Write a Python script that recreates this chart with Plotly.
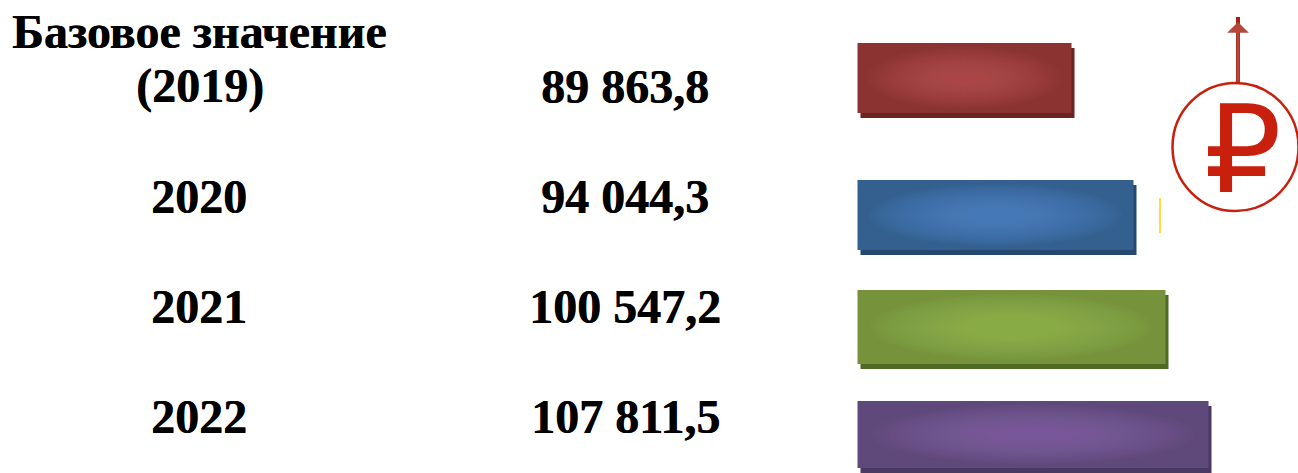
import plotly.graph_objects as go

# --- data ---
years = ["Базовое значение (2019)", "2020", "2021", "2022"]
amounts = ["89 863,8", "94 044,3", "100 547,2", "107 811,5"]
bar_lengths = [214, 276, 308, 351]   # drawn lengths as pictured (not proportional to the amounts)

# --- layout (picture pixels) ---
W, H = 1298, 473
BAR_X0 = 857.5
bar_top = [43, 180, 290, 401]
bar_bottom = [113, 250, 364, 468]
SHADOW_DX, SHADOW_DY = 3, 5
edge = ["#8a3331", "#34608f", "#76933c", "#5f497a"]
centre = ["#c0524f", "#5285c4", "#a0c05c", "#8668aa"]
shadow = ["#6a2421", "#26486f", "#4f6a22", "#4a3a63"]
FONT = "Liberation Serif"
FS = 48
BLACK = "#000000"
RED = "#c8200c"
DARK_RED = "#a8210f"
GLOW_LAYERS = 24

fig = go.Figure()
names = ["2019", "2020", "2021", "2022"]
shapes = []
for i, length in enumerate(bar_lengths):
    top, bottom = bar_top[i], bar_bottom[i]
    h = bottom - top
    mid = (top + bottom) / 2
    fig.add_bar(x=[length], base=[BAR_X0 + SHADOW_DX], y=[mid + SHADOW_DY], width=[h],
                orientation="h", marker=dict(color=shadow[i], line_width=0),
                hoverinfo="skip", showlegend=False)
    fig.add_bar(x=[length], base=[BAR_X0], y=[mid], width=[h],
                orientation="h", marker=dict(color=edge[i], line_width=0),
                name=names[i], showlegend=False)
    # soft centre glow built from stacked translucent ellipses
    for k in range(GLOW_LAYERS):
        t = k / GLOW_LAYERS
        rx = length / 2 * 0.92 * (1 - 0.85 * t)
        ry = h / 2 * 0.9 * (1 - 0.85 * t)
        cx = BAR_X0 + length / 2
        shapes.append(dict(type="circle", xref="x", yref="y", layer="above",
                           x0=cx - rx, x1=cx + rx, y0=mid - ry, y1=mid + ry,
                           fillcolor=centre[i], opacity=0.06, line_width=0))

annotations = []


def label(x, y, text):
    annotations.append(dict(x=x, y=y, xref="x", yref="y", text=f"<b>{text}</b>", showarrow=False,
                            xanchor="center", yanchor="middle",
                            font=dict(family=FONT, size=FS, color=BLACK,
                                      shadow="0.5px 0 0 #000")))


label(199, 31, "Базовое значение")
label(200, 86, "(2019)")
for yr, y in zip(years[1:], [196, 306, 416]):
    label(199, y, yr)
for amt, y in zip(amounts, [86, 196, 306, 416]):
    label(625, y, amt)

# rouble sign
annotations.append(dict(x=1243, y=150, xref="x", yref="y", text="₽", showarrow=False,
                        xanchor="center", yanchor="middle",
                        font=dict(family="DejaVu Sans", size=122, color=RED)))
# arrow head
annotations.append(dict(x=1238, y=22, ax=1238, ay=83, xref="x", yref="y", axref="x", ayref="y",
                        text="", showarrow=True, arrowhead=1, arrowsize=1.2, arrowwidth=3,
                        arrowcolor="#b5473a"))

shapes += [
    dict(type="line", xref="x", yref="y", x0=1238, x1=1238, y0=83, y1=17,
         line=dict(color=DARK_RED, width=4), layer="above"),
    dict(type="circle", xref="x", yref="y", x0=1172.5, x1=1298.5, y0=83, y1=211,
         line=dict(color=RED, width=2.5), fillcolor="rgba(0,0,0,0)"),
    dict(type="line", xref="x", yref="y", x0=1160, x1=1160, y0=198, y1=233,
         line=dict(color="#ffcc00", width=1.5)),
]

fig.update_layout(
    width=W, height=H, autosize=False,
    margin=dict(l=0, r=0, t=0, b=0),
    paper_bgcolor="#ffffff", plot_bgcolor="#ffffff",
    barmode="overlay", showlegend=False,
    annotations=annotations, shapes=shapes,
    xaxis=dict(range=[0, W], visible=False, fixedrange=True),
    yaxis=dict(range=[H, 0], visible=False, fixedrange=True),
)
fig.write_html("out.html", config={"displayModeBar": False},
               post_script="document.body.style.margin='0';document.documentElement.style.overflow='hidden';")
